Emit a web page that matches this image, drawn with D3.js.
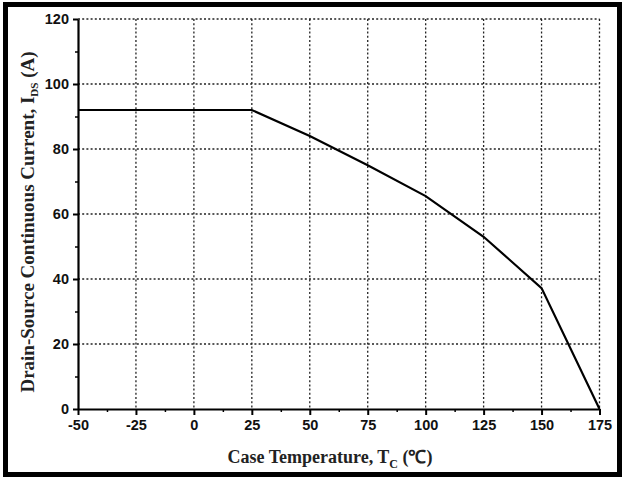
<!DOCTYPE html>
<html>
<head>
    <meta charset="utf-8">
    <script src="https://d3js.org/d3.v7.min.js"></script>
    <style>
        body { margin: 0; background: #fff; }
        svg { display: block; }
        .tick text { font-family: "Liberation Sans", Arial, sans-serif; font-weight: bold; font-size: 14.5px; fill: #111; }
        .title { font-family: "Liberation Serif", "Times New Roman", serif; font-weight: bold; fill: #222; }
    </style>
</head>
<body>
    <svg width="622" height="477"></svg>
    <script>
        // data
        var temps = [-50, 25, 50, 75, 100, 125, 150, 175]
        var currents = [92, 92, 84, 75, 65.5, 53, 37.2, 0]
        var xTicks = [-50, -25, 0, 25, 50, 75, 100, 125, 150, 175]
        var yTicks = [0, 20, 40, 60, 80, 100, 120]

        const svg = d3.select("svg")
        var plotLeft = 78, plotRight = 599.5, plotTop = 19, plotBottom = 409

        var x = d3.scaleLinear().domain([-50, 175]).range([plotLeft, plotRight])
        var y = d3.scaleLinear().domain([0, 120]).range([plotBottom, plotTop])

        // outer frame
        svg.append("rect")
            .attr("x", 5.5).attr("y", 4.5)
            .attr("width", 614).attr("height", 470)
            .attr("fill", "none")
            .attr("stroke", "#000")
            .attr("stroke-width", 5)

        // dotted grid
        var grid = svg.append("g")
        grid.selectAll("line.v")
            .data(xTicks.slice(1))
            .enter().append("line")
            .attr("class", "v")
            .attr("x1", d => x(d)).attr("x2", d => x(d))
            .attr("y1", y(120)).attr("y2", y(0))
        grid.selectAll("line.h")
            .data(yTicks.slice(1))
            .enter().append("line")
            .attr("class", "h")
            .attr("x1", x(-50)).attr("x2", x(175))
            .attr("y1", d => y(d)).attr("y2", d => y(d))
        grid.selectAll("line")
            .attr("stroke", "#222")
            .attr("stroke-width", 1.3)
            .attr("stroke-dasharray", "2,2.2")

        // minor ticks
        var xMinor = xTicks.slice(0, -1).map(d => d + 12.5)
        var yMinor = yTicks.slice(0, -1).map(d => d + 10)
        svg.append("g")
            .attr("transform", "translate(0," + plotBottom + ")")
            .call(d3.axisBottom(x).tickValues(xMinor).tickSize(3).tickFormat(""))
            .call(g => g.select(".domain").remove())
            .selectAll("line").attr("stroke-width", 1.5)
        svg.append("g")
            .attr("transform", "translate(" + plotLeft + ",0)")
            .call(d3.axisLeft(y).tickValues(yMinor).tickSize(3).tickFormat(""))
            .call(g => g.select(".domain").remove())
            .selectAll("line").attr("stroke-width", 1.5)

        // major axes
        var xAxis = svg.append("g")
            .attr("transform", "translate(0," + plotBottom + ")")
            .call(d3.axisBottom(x).tickValues(xTicks).tickSize(6).tickSizeOuter(0).tickPadding(5))
        var yAxis = svg.append("g")
            .attr("transform", "translate(" + plotLeft + ",0)")
            .call(d3.axisLeft(y).tickValues(yTicks).tickSize(5).tickSizeOuter(0).tickPadding(4))
        xAxis.selectAll("line").attr("stroke-width", 2)
        yAxis.selectAll("line").attr("stroke-width", 2)
        xAxis.select(".domain").attr("stroke-width", 2.2)
        yAxis.select(".domain").attr("stroke-width", 2.2)
        svg.selectAll(".tick text").attr("font-family", null).attr("font-size", null)
        xAxis.selectAll(".tick text").text(d => d < 0 ? "-" + (-d) : d)

        // curve
        var pts = temps.map((t, i) => [t, currents[i]])
        svg.append("path")
            .datum(pts)
            .attr("fill", "none")
            .attr("stroke", "#000")
            .attr("stroke-width", 2.2)
            .attr("d", d3.line().x(d => x(d[0])).y(d => y(d[1])))

        // axis titles
        var xt = svg.append("text")
            .attr("class", "title")
            .attr("x", 330).attr("y", 463)
            .attr("text-anchor", "middle")
            .style("font-size", "18px")
        xt.append("tspan").text("Case Temperature, T")
        xt.append("tspan").attr("dy", 5).style("font-size", "12px").text("C")
        xt.append("tspan").attr("dy", -5).text(" (\u2103)")

        var yt = svg.append("text")
            .attr("class", "title")
            .attr("transform", "translate(34,222) rotate(-90)")
            .attr("text-anchor", "middle")
            .style("font-size", "19px")
        yt.append("tspan").text("Drain-Source Continuous Current, I")
        yt.append("tspan").attr("dy", 4).style("font-size", "11px").text("DS")
        yt.append("tspan").attr("dy", -4).text(" (A)")
    </script>
</body>
</html>
